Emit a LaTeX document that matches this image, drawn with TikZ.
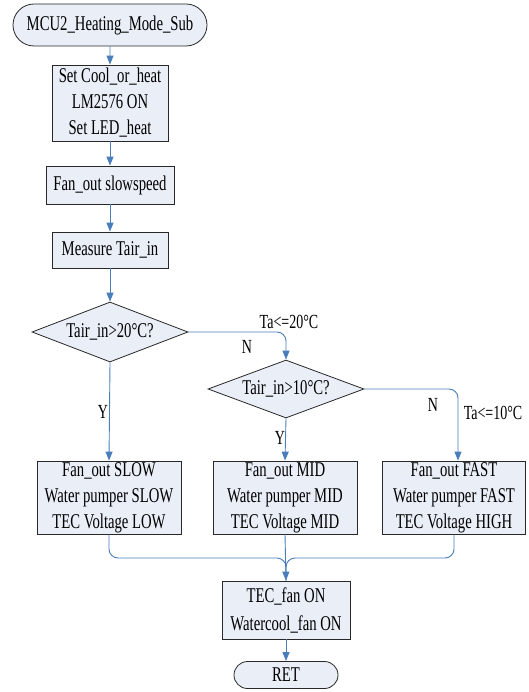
\documentclass[tikz,border=0pt]{standalone}
\usepackage{fontspec}
\setmainfont{Liberation Serif}[FakeStretch=0.7]
\usetikzlibrary{shapes.geometric,shapes.misc,arrows.meta}
\definecolor{lineblue}{RGB}{74,126,187}
\definecolor{boxfill}{RGB}{233,238,247}
\definecolor{boxline}{RGB}{40,40,40}
\begin{document}
\begin{tikzpicture}[x=1pt,y=-1pt,
  every node/.style={font=\fontsize{21}{26}\selectfont, inner sep=0pt},
  proc/.style={draw=boxline, fill=boxfill, line width=0.8pt, align=center},
  term/.style={rounded rectangle, draw=boxline, fill=boxfill, line width=0.8pt, align=center},
  dia/.style={diamond, draw=boxline, fill=boxfill, line width=0.8pt, aspect=2.6},
  conn/.style={draw=lineblue, line width=0.9pt},
  arr/.style={conn, -{Triangle[length=9pt,width=7pt]}},
  lbl/.style={font=\fontsize{20}{24}\selectfont}]
\useasboundingbox (0,0) rectangle (529,692);
\node[term, minimum width=194pt, minimum height=42pt] (start) at (110,25) {MCU2\_Heating\_Mode\_Sub};
\node[proc, minimum width=116pt, minimum height=76pt] (b1) at (110,103) {Set Cool\_or\_heat\\LM2576 ON\\Set LED\_heat};
\node[proc, minimum width=128pt, minimum height=38pt] (b2) at (110,185) {Fan\_out slowspeed};
\node[proc, minimum width=116pt, minimum height=36pt] (b3) at (110,250) {Measure Tair\_in};
\node[dia, minimum width=156pt, minimum height=60pt] (d1) at (110,332) {Tair\_in>20°C?};
\node[dia, minimum width=156pt, minimum height=58pt] (d2) at (286,389) {Tair\_in>10°C?};
\node[proc, minimum width=144pt, minimum height=73pt] (A) at (109,497.5) {Fan\_out SLOW\\Water pumper SLOW\\TEC Voltage LOW};
\node[proc, minimum width=144pt, minimum height=73pt] (B) at (285,497.5) {Fan\_out MID\\Water pumper MID\\TEC Voltage MID};
\node[proc, minimum width=143pt, minimum height=73pt] (C) at (454,497.5) {Fan\_out FAST\\Water pumper FAST\\TEC Voltage HIGH};
\node[proc, minimum width=128pt, minimum height=58pt, font=\fontsize{21}{28}\selectfont] (D) at (286,610) {TEC\_fan ON\\Watercool\_fan ON};
\node[term, minimum width=104pt, minimum height=27pt] (ret) at (286,675) {RET};
\coordinate (m) at (286,558);
% connectors
\draw[arr] (start) -- (b1);
\draw[arr] (b1) -- (b2);
\draw[arr] (b2) -- (b3);
\draw[arr] (b3) -- (d1);
\draw[arr, rounded corners=9pt] (d1.east) -| (d2.north);
\draw[arr] (d1.south) -- (A.north);
\draw[arr] (d2.south) -- (B.north);
\draw[arr, rounded corners=9pt] (d2.east) -| ([xshift=4pt]C.north);
\draw[conn, rounded corners=9pt] (A.south) |- (m) -- (D.north);
\draw[conn, rounded corners=9pt] (C.south) |- (m) -- (D.north);
\draw[arr] (B.south) -- (D.north);
\draw[arr] (D) -- (ret);
% labels
\node[lbl] (l1) at (289,322) {Ta<=20°C};
\node[lbl] (n1) at (247,347) {N};
\node[lbl] (y1) at (103,412) {Y};
\node[lbl] (y2) at (280,438) {Y};
\node[lbl] (n2) at (433,405) {N};
\node[lbl] (l2) at (493,413) {Ta<=10°C};
\end{tikzpicture}
\end{document}
